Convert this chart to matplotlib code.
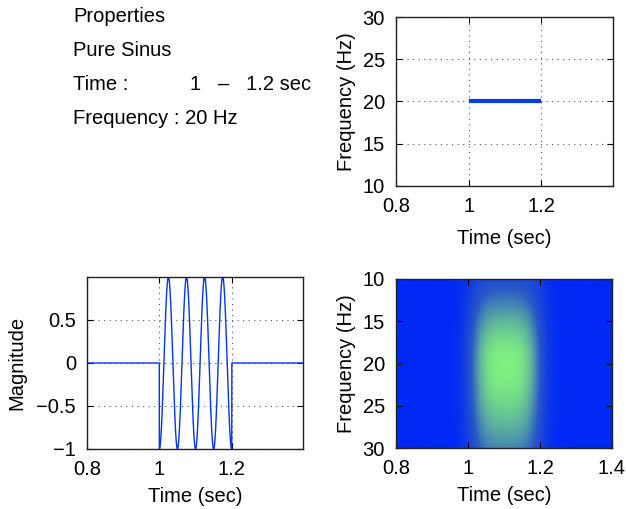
import numpy as np
import matplotlib.pyplot as plt
from matplotlib.colors import LinearSegmentedColormap
from math import erf

plt.rcParams['font.family'] = ['Liberation Sans', 'DejaVu Sans']
plt.rcParams['font.size'] = 14.5

# signal properties
t_start, t_end = 1.0, 1.2
freq = 20
time_ticks = [0.8, 1.0, 1.2]
time_labels = ['0.8', '1', '1.2']
freq_ticks = [10, 15, 20, 25, 30]
mag_ticks = [-1, -0.5, 0, 0.5]
mag_labels = ['\u22121', '\u22120.5', '0', '0.5']
info_lines = ['Properties', 'Pure Sinus', 'Time :', 'Frequency : 20 Hz']
time_range_text = '1   \u2013   1.2 sec'

# time-frequency image model
tf_time_shift = 0.005
tf_time_sigma = 0.028
tf_freq_center = 20.0
tf_freq_sigma_low = 7.5
tf_freq_sigma_high = 11.0

line_blue = '#0033ff'
cmap = LinearSegmentedColormap.from_list('tf', ['#0028f5', '#2a58c8', '#80f080'])

fig = plt.figure(figsize=(6.26, 5.09), dpi=100)


def style(ax):
    ax.tick_params(direction='in', top=True, right=True, length=4, width=0.8,
                   labelsize=14.5, pad=8)
    for s in ax.spines.values():
        s.set_linewidth(1.0)
        s.set_color('#222222')


# text panel
ys = [17, 50, 84, 118]
for txt, y in zip(info_lines, ys):
    fig.text(73 / 626, 1 - y / 509, txt, ha='left', va='center')
fig.text(190 / 626, 1 - 84 / 509, time_range_text, ha='left', va='center')

# top right: instantaneous frequency
ax1 = fig.add_axes([0.6326, 0.6346, 0.3466, 0.332])
ax1.plot([t_start, t_end], [freq, freq], color='#0a3ae6', lw=3, solid_capstyle='butt')
ax1.set_xlim(0.8, 1.397)
ax1.set_ylim(10, 30)
ax1.set_xticks(time_ticks)
ax1.set_xticklabels(time_labels)
ax1.set_yticks(freq_ticks)
ax1.grid(True, linestyle=(0, (1, 4)), color='#555555', lw=0.8)
ax1.set_xlabel('Time (sec)', labelpad=9)
ax1.set_ylabel('Frequency (Hz)', labelpad=5)
style(ax1)

# bottom left: waveform
t = np.linspace(0.8, 1.4, 3001)
inside = (t >= t_start) & (t <= t_end)
x = np.where(inside, -np.cos(2 * np.pi * freq * (t - t_start)), 0.0)
ax2 = fig.add_axes([0.139, 0.1179, 0.345, 0.3379])
ax2.plot(t, x, color=line_blue, lw=1.0)
ax2.set_xlim(0.8, 1.397)
ax2.set_ylim(-1, 1.0)
ax2.set_xticks(time_ticks)
ax2.set_xticklabels(time_labels)
ax2.set_yticks(mag_ticks)
ax2.set_yticklabels(mag_labels)
ax2.grid(True, linestyle=(0, (1, 4)), color='#555555', lw=0.8)
ax2.set_xlabel('Time (sec)', labelpad=6)
ax2.set_ylabel('Magnitude', labelpad=7)
style(ax2)

# bottom right: time-frequency image
tt = np.linspace(0.8, 1.4, 400)
ff = np.linspace(10, 30, 200)
erf_v = np.vectorize(erf)
a = t_start + tf_time_shift
b = t_end + tf_time_shift
env_t = 0.5 * (erf_v((tt - a) / (np.sqrt(2) * tf_time_sigma))
               - erf_v((tt - b) / (np.sqrt(2) * tf_time_sigma)))
env_t = env_t * (1 - 0.15 * ((tt - 0.5 * (a + b)) / 0.11) ** 2).clip(0, 1)
sig = np.where(ff < tf_freq_center, tf_freq_sigma_low, tf_freq_sigma_high)
env_f = np.exp(-(ff - tf_freq_center) ** 2 / (2 * sig ** 2))
img = env_f[:, None] * env_t[None, :]
img = img / img.max()
ax3 = fig.add_axes([0.6326, 0.1198, 0.345, 0.3321])
ax3.imshow(img, cmap=cmap, aspect='auto', origin='upper',
           extent=[0.8, 1.4, 30, 10], vmin=0, vmax=1, interpolation='bilinear')
ax3.set_xlim(0.8, 1.4)
ax3.set_ylim(30, 10)
ax3.set_xticks([0.8, 1.0, 1.2, 1.4])
ax3.set_xticklabels(['0.8', '1', '1.2', '1.4'])
ax3.set_yticks(freq_ticks)
ax3.set_xlabel('Time (sec)', labelpad=6)
ax3.set_ylabel('Frequency (Hz)', labelpad=5)
style(ax3)

fig.savefig('out.png', dpi=100)
